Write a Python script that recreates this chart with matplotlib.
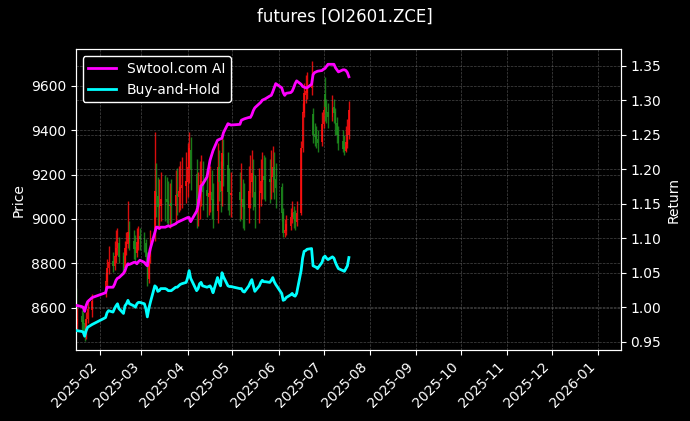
import matplotlib
matplotlib.use("Agg")
import matplotlib.pyplot as plt
import matplotlib.dates as mdates
import numpy as np
import pandas as pd

# ---------------- data ----------------
holidays = ["2025-01-28", "2025-01-29", "2025-01-30", "2025-01-31", "2025-02-03", "2025-02-04",
            "2025-04-04", "2025-05-01", "2025-05-02", "2025-05-05", "2025-06-02"]
dates = [d for d in pd.bdate_range("2025-01-16", "2025-07-18") if d.strftime("%Y-%m-%d") not in holidays]

close = [8549, 8549, 8540, 8531, 8478, 8549, 8593, 8629,
         8717, 8779, 8806, 8788, 8832, 8868, 8894, 8832, 8770, 8868, 8894, 8939, 8894, 8868, 8850, 8894, 8912, 8912,
         8894, 8832, 8726, 8832, 8912, 9124, 9107, 9054, 9062, 9089, 9089, 9080, 9062, 9062, 9062, 9107, 9107, 9124,
         9142, 9151, 9169,
         9231, 9319, 9222, 9054, 9089, 9151, 9169, 9124, 9107, 9116, 9124, 9089, 9036, 9231, 9169, 9124, 9293, 9239,
         9124, 9116, 9116,
         9089, 9089, 9054, 9045, 9124, 9169, 9204, 9124, 9054, 9124, 9169, 9195, 9177, 9177, 9169, 9195, 9231, 9177,
         9142,
         9027, 8939, 8947, 8974, 9009, 9027, 9000, 8992, 9027, 9319, 9478, 9567, 9576, 9593, 9600, 9381, 9372, 9363,
         9346, 9425,
         9487, 9505, 9478, 9461, 9496, 9478, 9425, 9381, 9346, 9319, 9310, 9346, 9381, 9487]
open_ = [8600, 8530, 8560, 8545, 8530, 8480, 8550, 8590,
         8680, 8720, 8780, 8810, 8790, 8830, 8870, 8890, 8830, 8780, 8870, 8890, 8940, 8900, 8870, 8850, 8890, 8920,
         8910, 8890, 8830, 8730, 8830, 8950, 9120, 9100, 9050, 9060, 9090, 9090, 9080, 9060, 9070, 9060, 9110, 9100,
         9120, 9140, 9150,
         9170, 9230, 9310, 9200, 9060, 9080, 9150, 9170, 9130, 9100, 9110, 9120, 9090, 9040, 9230, 9170, 9130, 9290,
         9240, 9120, 9110,
         9120, 9080, 9090, 9060, 9050, 9120, 9170, 9200, 9120, 9050, 9120, 9170, 9190, 9180, 9180, 9170, 9190, 9230,
         9180,
         9140, 9030, 8940, 8950, 8970, 9010, 9030, 9000, 8990, 9030, 9320, 9480, 9560, 9570, 9590, 9470, 9380, 9370,
         9360, 9350,
         9430, 9560, 9500, 9480, 9460, 9500, 9480, 9430, 9380, 9350, 9320, 9310, 9340, 9380]
high = [8690, 8600, 8590, 8580, 8550, 8580, 8640, 8660,
        8760, 8820, 8880, 8850, 8900, 8950, 8960, 8920, 8850, 8900, 8940, 9080, 8990, 8950, 8930, 8960, 8970, 8960,
        8940, 8910, 8850, 8870, 8950, 9390, 9250, 9190, 9180, 9210, 9200, 9190, 9170, 9160, 9180, 9220, 9230, 9240,
        9260, 9280, 9300,
        9340, 9390, 9370, 9270, 9210, 9260, 9290, 9260, 9230, 9220, 9240, 9220, 9160, 9340, 9310, 9260, 9370, 9360,
        9300, 9230, 9210,
        9210, 9250, 9180, 9160, 9240, 9290, 9310, 9270, 9200, 9230, 9270, 9300, 9290, 9280, 9270, 9310, 9330, 9300,
        9250,
        9160, 9050, 9000, 9020, 9050, 9080, 9060, 9040, 9080, 9350, 9520, 9610, 9650, 9660, 9710, 9500, 9430, 9420,
        9400, 9480,
        9540, 9640, 9540, 9520, 9560, 9540, 9500, 9460, 9420, 9400, 9380, 9420, 9450, 9530]
low = [8520, 8500, 8500, 8490, 8450, 8460, 8530, 8560,
       8650, 8700, 8750, 8760, 8770, 8800, 8840, 8800, 8750, 8760, 8840, 8870, 8860, 8820, 8800, 8830, 8860, 8860,
       8850, 8800, 8700, 8710, 8800, 8900, 9010, 8970, 8960, 8990, 8990, 8980, 8970, 8960, 8970, 8990, 9020, 9030,
       9040, 9050, 9070,
       9100, 9160, 9130, 8960, 8970, 9000, 9060, 9040, 9010, 9020, 9030, 9000, 8960, 8980, 9080, 9030, 9060, 9150,
       9040, 9020, 9010,
       8990, 9000, 8960, 8950, 8980, 9050, 9100, 9040, 8960, 8980, 9060, 9090, 9090, 9080, 9070, 9090, 9120, 9090,
       9050,
       8990, 8920, 8920, 8930, 8950, 8980, 8960, 8950, 8970, 9020, 9300, 9460, 9520, 9540, 9560, 9340, 9330, 9320,
       9300, 9330,
       9410, 9440, 9430, 9410, 9440, 9430, 9380, 9340, 9310, 9300, 9290, 9300, 9320, 9360]

strategy = [1.0025, 1.0025, 1.001, 1.000, 0.994, 1.0025, 1.008, 1.014,
            1.021, 1.029, 1.029, 1.029, 1.033, 1.039, 1.042, 1.043, 1.049, 1.053, 1.059, 1.063, 1.062, 1.065, 1.065,
            1.063, 1.066, 1.068,
            1.065, 1.062, 1.060, 1.075, 1.085, 1.108, 1.116, 1.116, 1.114, 1.116, 1.116, 1.117, 1.118, 1.117, 1.118,
            1.121, 1.123, 1.124, 1.125, 1.126, 1.129,
            1.130, 1.130, 1.124, 1.139, 1.147, 1.162, 1.176, 1.178, 1.189, 1.201, 1.213, 1.220, 1.227, 1.242, 1.243,
            1.244, 1.245, 1.253, 1.266, 1.265, 1.264,
            1.265, 1.271, 1.272, 1.273, 1.275, 1.275, 1.279, 1.285, 1.289, 1.295, 1.297, 1.300, 1.301, 1.302, 1.306,
            1.307, 1.312, 1.318, 1.324,
            1.318, 1.311, 1.307, 1.310, 1.311, 1.313, 1.318, 1.324, 1.328, 1.323, 1.320, 1.319, 1.318, 1.318, 1.323,
            1.337, 1.340, 1.341, 1.342, 1.343,
            1.345, 1.346, 1.349, 1.352, 1.352, 1.352, 1.347, 1.344, 1.341, 1.344, 1.344, 1.343, 1.340, 1.334]
buy_hold = [0.966, 0.966, 0.965, 0.964, 0.958, 0.966, 0.971, 0.975,
            0.985, 0.992, 0.995, 0.993, 0.998, 1.002, 1.005, 0.998, 0.991, 1.002, 1.005, 1.010, 1.005, 1.002, 1.000,
            1.005, 1.007, 1.007,
            1.005, 0.998, 0.986, 0.998, 1.007, 1.031, 1.029, 1.023, 1.024, 1.027, 1.027, 1.026, 1.024, 1.024, 1.024,
            1.029, 1.029, 1.031, 1.033, 1.034, 1.036,
            1.043, 1.053, 1.042, 1.024, 1.027, 1.034, 1.036, 1.031, 1.029, 1.030, 1.031, 1.027, 1.021, 1.043, 1.036,
            1.031, 1.050, 1.044, 1.031, 1.030, 1.030,
            1.027, 1.027, 1.023, 1.022, 1.031, 1.036, 1.040, 1.031, 1.023, 1.031, 1.036, 1.039, 1.037, 1.037, 1.036,
            1.039, 1.043, 1.037, 1.033,
            1.020, 1.010, 1.011, 1.014, 1.018, 1.020, 1.017, 1.016, 1.020, 1.053, 1.071, 1.081, 1.082, 1.084, 1.085,
            1.060, 1.059, 1.058, 1.056, 1.065,
            1.072, 1.074, 1.071, 1.069, 1.073, 1.071, 1.065, 1.060, 1.056, 1.053, 1.052, 1.056, 1.060, 1.072]

title = "futures [OI2601.ZCE]"
strategy_label = "Swtool.com AI"
bh_label = "Buy-and-Hold"

# ---------------- plot ----------------
plt.style.use("dark_background")
fig = plt.figure(figsize=(6.9, 4.21), dpi=100)
ax = fig.add_subplot(111)
fig.subplots_adjust(left=0.1097, right=0.8994, top=0.883, bottom=0.1686)
ax.set_facecolor("black")

x = mdates.date2num(dates)
o = np.array(open_, float); c = np.array(close, float)
h = np.array(high, float); l = np.array(low, float)
up = c >= o
cols = np.where(up, "#ff1010", "#1e8f1e")
ax.vlines(x, l, h, colors=cols, linewidth=1.0, alpha=0.85, zorder=2)
ax.bar(x, np.abs(c - o) + 4, bottom=np.minimum(o, c) - 2, width=1.0, color=cols, alpha=0.85,
       linewidth=0, zorder=2)

ax.set_ylim(8410, 9764)
ax.set_ylabel("Price", color="white", fontsize=10)
ax.grid(True, color="#777777", linestyle="--", linewidth=0.5, alpha=0.6)

ax2 = ax.twinx()
ax2.plot(x, strategy, color="#ff00ff", linewidth=2, label=strategy_label, zorder=3)
ax2.plot(x, buy_hold, color="#00ffff", linewidth=2, label=bh_label, zorder=3)
ax2.set_ylim(0.938, 1.3738)
ax2.set_yticks(np.arange(0.95, 1.36, 0.05))
ax2.set_ylabel("Return", color="white", fontsize=10)
ax2.grid(True, axis="y", color="#777777", linestyle="--", linewidth=0.5, alpha=0.6)

start = dates[0]
ax.set_xlim(mdates.date2num(start), mdates.date2num(start + pd.Timedelta(days=365)))
ax.xaxis.set_major_locator(mdates.MonthLocator())
ax.xaxis.set_major_formatter(mdates.DateFormatter("%Y-%m"))
plt.setp(ax.get_xticklabels(), rotation=45, ha="right")

for a in (ax, ax2):
    for s in a.spines.values():
        s.set_color("white")
    a.tick_params(colors="white", labelsize=10)

leg = ax2.legend(loc="upper left", facecolor="black", edgecolor="white", fontsize=10, framealpha=1)
for t in leg.get_texts():
    t.set_color("white")

fig.suptitle(title, color="white", fontsize=12, y=0.982)
fig.savefig("out.png", dpi=100, facecolor="black")
